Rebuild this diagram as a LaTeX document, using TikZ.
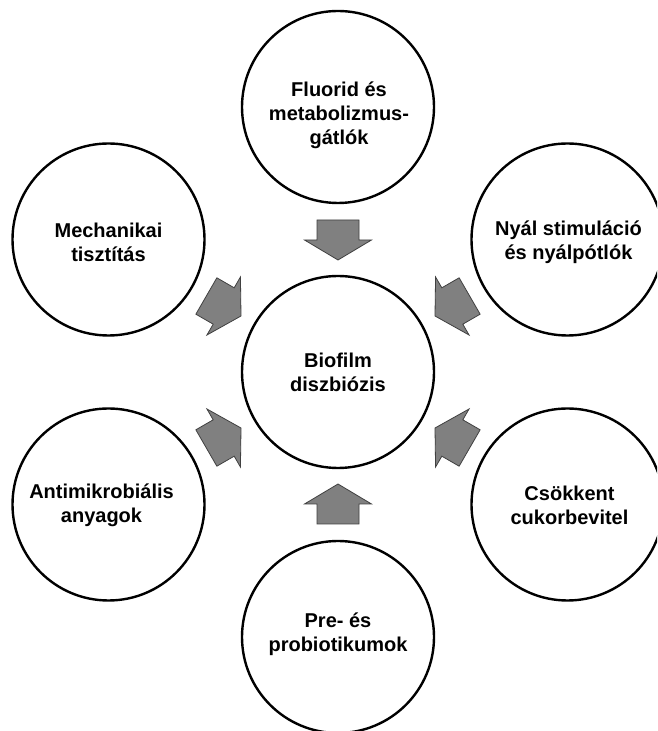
\documentclass[tikz,border=0pt]{standalone}
\usepackage{fontspec}
\setmainfont{Liberation Sans}
\usetikzlibrary{calc}
\begin{document}
\begin{tikzpicture}[x=1pt,y=1pt,
  circ/.style={circle,draw=black,line width=2.4pt,minimum size=192pt,inner sep=0pt,fill=white},
  txt/.style={align=center,font=\fontsize{20}{24}\selectfont\bfseries,inner sep=0pt},
  blockarrow/.style={fill=black!50,draw=black!75,line width=0.8pt,line join=miter}]
\useasboundingbox (0,0) rectangle (657,731);
\clip (0,0) rectangle (657,731);
\fill[white] (0,0) rectangle (657,731);
% circles
\node[circ] (c)  at (338,359) {};
\node[circ] (t)  at ($(c)+(90:265)$) {};
\node[circ] (ur) at ($(c)+(30:265)$) {};
\node[circ] (lr) at ($(c)+(-30:265)$) {};
\node[circ] (b)  at ($(c)+(-90:265)$) {};
\node[circ] (ll) at ($(c)+(-150:265)$) {};
\node[circ] (ul) at ($(c)+(150:265)$) {};
% texts
\node[txt] (tc)  at ($(c)+(0,0)$) {Biofilm\\diszbiózis};
\node[txt] (tt)  at ($(t)+(1,-8)$) {Fluorid és\\metabolizmus-\\gátlók};
\node[txt] (tur) at ($(ur)+(1,-3)$) {Nyál stimuláció\\és nyálpótlók};
\node[txt] (tlr) at ($(lr)+(2,-1)$) {Csökkent\\cukorbevitel};
\node[txt] (tb)  at ($(b)+(0,3)$) {Pre- és\\probiotikumok};
\node[txt] (tll) at ($(ll)+(-7,-1)$) {Antimikrobiális\\anyagok};
\node[txt] (tul) at ($(ul)+(0,-3)$) {Mechanikai\\tisztítás};
% block arrows pointing at the centre circle
\foreach \a in {90,30,-30,-90,-150,150}{
  \begin{scope}[shift={(c.center)},rotate=\a,shift={(132,0)},rotate=180]
    \draw[blockarrow] (-20,21) -- (0,21) -- (0,33.5) -- (20,0) -- (0,-33.5) -- (0,-21) -- (-20,-21) -- cycle;
  \end{scope}
}
\end{tikzpicture}
\end{document}
